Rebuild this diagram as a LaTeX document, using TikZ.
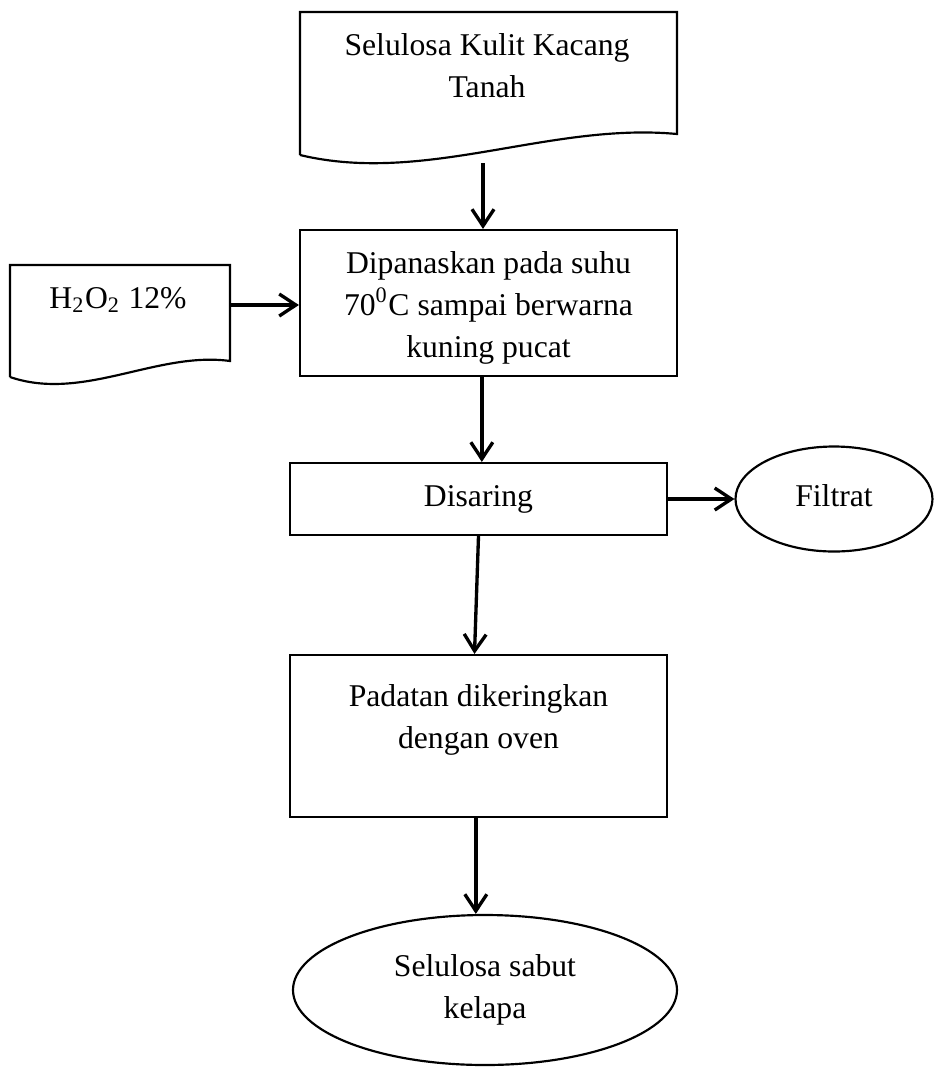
\documentclass[tikz,border=0pt]{standalone}
\usepackage{fontspec}
\setmainfont{Liberation Serif}
\usetikzlibrary{arrows.meta,shapes.geometric}
\begin{document}
\begin{tikzpicture}[x=0.3pt,y=-0.3pt,
  every node/.style={font=\fontsize{9.5}{12.6}\selectfont},
  txt/.style={align=center,inner sep=0pt},
  procbox/.style={draw,line width=0.65pt,rectangle,inner sep=0pt,minimum width=113.1pt},
  endell/.style={draw,line width=0.65pt,ellipse,inner sep=0pt},
  docline/.style={line width=0.65pt},
  flow/.style={line width=1pt,-{Straight Barb[length=5pt,width=6.6pt]}}]
\useasboundingbox (0,0) rectangle (933,1067);
% document 1
\draw[docline] (300,155) -- (300,12) -- (677,12) -- (677,134)
  .. controls (550,122) and (425,185) .. (300,155);
\node[txt] (doc1) at (487,66) {Selulosa Kulit Kacang\\Tanah};
\coordinate (doc1b) at (483,163);
% H2O2 document
\draw[docline] (10,377) -- (10,265) -- (230,265) -- (230,361)
  .. controls (157,351) and (83,402) .. (10,377);
\node[txt] (h2o2) at (118,300) {H\textsubscript{2}O\textsubscript{2} 12\%};
\coordinate (h2o2r) at (230,305);
% heating box
\node[procbox,minimum height=43.8pt,
  label={[txt,yshift=-1.5pt]center:Dipanaskan pada suhu\\70\textsuperscript{0}C sampai berwarna\\kuning pucat}]
  (heat) at (488.5,303) {};
% filtering
\node[procbox,minimum height=21.6pt] (dis) at (478.5,499) {Disaring};
\node[endell,minimum width=59.1pt,minimum height=31.5pt] (filt) at (834,499) {\raisebox{2pt}{Filtrat}};
% drying
\node[procbox,minimum height=48.6pt,
  label={[txt,yshift=4.8pt]center:Padatan dikeringkan\\dengan oven}]
  (pad) at (478.5,736) {};
% end
\node[endell,minimum width=115.2pt,minimum height=45pt,txt] (end) at (485,990) {Selulosa sabut\\kelapa};
% connectors
\draw[flow] (doc1b) -- (doc1b |- heat.north);
\draw[flow] (h2o2r) -- (h2o2r -| heat.west);
\draw[flow] ([xshift=-2pt]heat.south) -- ([xshift=-2pt]heat.south |- dis.north);
\draw[flow] (dis.east) -- (filt.west);
\draw[flow] (dis.south) -- ([xshift=-1.2pt]pad.north);
\draw[flow] ([xshift=-0.8pt]pad.south) -- ([xshift=-0.8pt]pad.south |- end.north);
\end{tikzpicture}
\end{document}
